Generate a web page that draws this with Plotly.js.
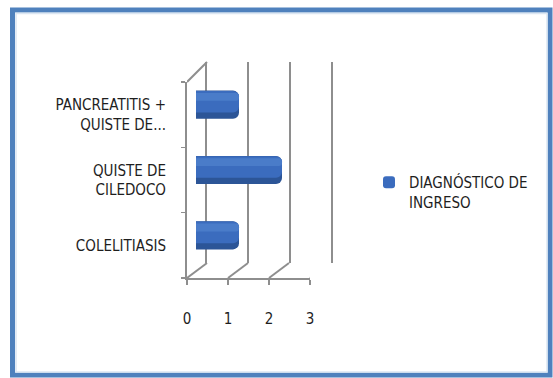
<!DOCTYPE html>
<html><head><meta charset="utf-8">
<script src="https://cdn.plot.ly/plotly-3.0.1.min.js"></script>
<style>html,body{margin:0;padding:0;background:#fff}#chart{width:553px;height:378px}</style>
</head><body><div id="chart"></div>
<script>
// ---- data ----
const categories = ['COLELITIASIS', 'QUISTE DE<br>CILEDOCO', 'PANCREATITIS +<br>QUISTE DE...'];
const values = [1, 2, 1];
const xTicks = [0, 1, 2, 3];
const seriesName = 'DIAGNÓSTICO DE<br>INGRESO';

// ---- layout helpers ----
const W = 553, H = 378;
const px = v => v / W;
const py = v => 1 - v / H;
const FONT = '"Liberation Sans Narrow", "DejaVu Sans Condensed", "Arial Narrow", sans-serif';
const GRID = '#8e8e8e';
const TXT = '#1e1e1e';

const ghost = (xa, ya) => ({type: 'scatter', mode: 'markers', x: values, y: categories,
  xaxis: xa, yaxis: ya, marker: {opacity: 0}, showlegend: false, hoverinfo: 'skip'});

const layers = [
  {w: 0.43, off: -0.215, color: '#2c5597', legend: false},
  {w: 0.33, off: -0.12, color: '#3b6cbe', legend: true},
  {w: 0.12, off: 0.06, color: '#4a7cc9', legend: false}
];
const bars = layers.map(l => ({
  type: 'bar', orientation: 'h', x: values, y: categories,
  xaxis: 'x3', yaxis: 'y3', width: l.w, offset: l.off,
  marker: {color: l.color, cornerradius: 6, line: {width: 0}},
  name: seriesName, showlegend: l.legend, hoverinfo: 'skip'
}));

const data = [ghost('x', 'y'), ghost('x2', 'y2'), ...bars];

const catAxis = {type: 'category', categoryorder: 'array', categoryarray: categories, range: [-0.5, 2.5]};

const shapes = [];
// floor diagonals from front axis to back wall
xTicks.forEach(v => shapes.push({type: 'line', layer: 'below', xref: 'x', xsizemode: 'pixel', xanchor: v, x0: 0, x1: 20,
  yref: 'paper', ysizemode: 'pixel', yanchor: py(278), y0: 0, y1: 15, line: {color: GRID, width: 2}}));
// top-left wall diagonal
shapes.push({type: 'line', layer: 'below', xref: 'x', xsizemode: 'pixel', xanchor: xTicks[0], x0: 0, x1: 20,
  yref: 'paper', ysizemode: 'pixel', yanchor: py(82), y0: 0, y1: 20, line: {color: GRID, width: 2}});
// chart frame
shapes.push({type: 'rect', xref: 'paper', yref: 'paper', x0: px(12.5), x1: px(550), y0: py(375), y1: py(10),
  line: {color: '#4f81bd', width: 5}});
shapes.push({type: 'rect', xref: 'paper', yref: 'paper', x0: px(16), x1: px(547), y0: py(372), y1: py(13.5),
  line: {color: '#dce6f2', width: 1.5}});

const layout = {
  width: W, height: H,
  margin: {l: 0, r: 0, t: 0, b: 0},
  paper_bgcolor: '#ffffff', plot_bgcolor: 'rgba(0,0,0,0)',
  font: {family: FONT, size: 15, color: TXT},
  barmode: 'overlay', showlegend: true,
  xaxis: {domain: [px(187), px(310)], range: [0, 3], anchor: 'y', tickvals: xTicks,
    showline: true, linecolor: GRID, linewidth: 2, ticks: 'outside', ticklen: 5, tickwidth: 1.5, tickcolor: GRID,
    showgrid: false, zeroline: false, ticklabelstandoff: 21, tickfont: {size: 15, color: TXT}},
  yaxis: Object.assign({}, catAxis, {domain: [py(278), py(82)], anchor: 'x',
    showline: true, linecolor: GRID, linewidth: 2, ticks: 'outside', tickson: 'boundaries', ticklen: 4, tickwidth: 1.5, tickcolor: GRID,
    showgrid: false, zeroline: false, ticklabelstandoff: 16, tickfont: {size: 15, color: TXT}}),
  // back wall: grid lines inside, y-axis line + mirror give the two end verticals
  xaxis2: {domain: [px(207), px(331)], range: [0, 3], anchor: 'y2', dtick: 1, tick0: 0,
    showgrid: true, gridcolor: GRID, gridwidth: 2, zeroline: false, showline: false, showticklabels: false, ticks: ''},
  yaxis2: Object.assign({}, catAxis, {domain: [py(263), py(62)], anchor: 'x2',
    showgrid: false, zeroline: false, showline: true, mirror: true, linecolor: GRID, linewidth: 2,
    showticklabels: false, ticks: ''}),
  xaxis3: {domain: [px(196), px(325)], range: [0, 3], anchor: 'y3',
    showgrid: false, zeroline: false, showline: false, showticklabels: false, ticks: ''},
  yaxis3: Object.assign({}, catAxis, {domain: [py(268), py(72)], anchor: 'x3',
    showgrid: false, zeroline: false, showline: false, showticklabels: false, ticks: ''}),
  legend: {x: px(369), y: py(166), xanchor: 'left', yanchor: 'top', valign: 'top',
    bgcolor: 'rgba(0,0,0,0)', font: {family: FONT, size: 15, color: TXT}},
  shapes: shapes
};

Plotly.newPlot('chart', data, layout, {staticPlot: true, displayModeBar: false});
</script>
</body></html>
